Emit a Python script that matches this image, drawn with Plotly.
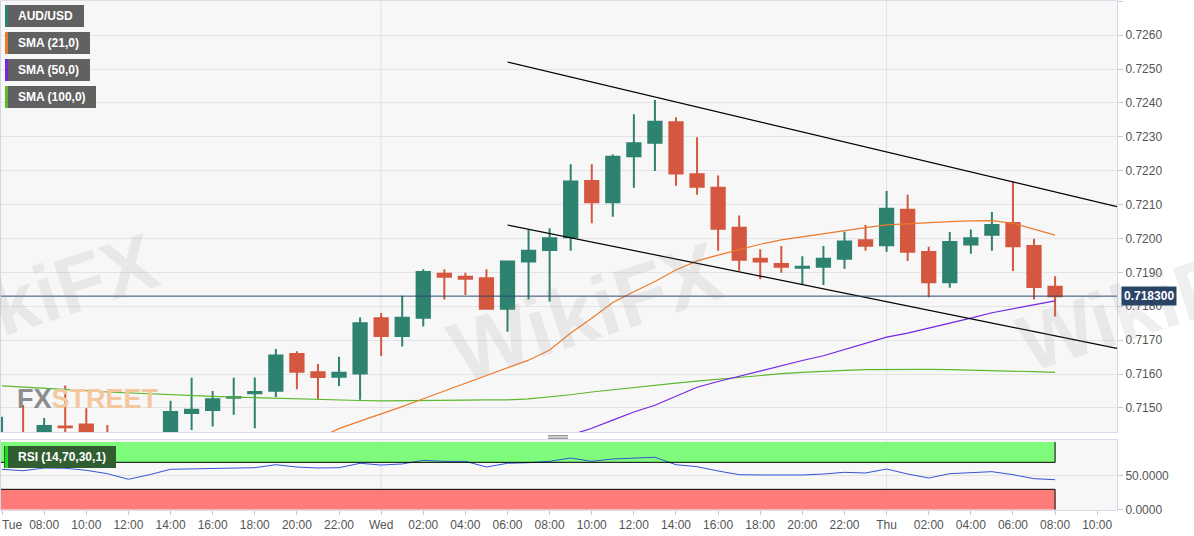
import plotly.graph_objects as go

# hourly candles, hour 0 = Tue 00:00
hours = list(range(6, 57))
opens = [0.7130, 0.7140, 0.7137, 0.71445, 0.71451, 0.7138, 0.7132, 0.7122, 0.7135, 0.71485,
         0.71494, 0.7153, 0.71543, 0.71551, 0.71659, 0.71605, 0.71592, 0.71602, 0.71765, 0.71712,
         0.71766, 0.71896, 0.71887, 0.71883, 0.71793, 0.71932, 0.71966, 0.72004, 0.7217, 0.72107,
         0.72243, 0.72283, 0.72343, 0.7219, 0.7215, 0.72032, 0.7194, 0.71925, 0.71914, 0.71917,
         0.7194, 0.71995, 0.7198, 0.72085, 0.7196, 0.71871, 0.71982, 0.72011, 0.72046, 0.71978,
         0.71858]
highs = [0.71474, 0.71509, 0.7147, 0.71566, 0.71499, 0.7145, 0.7134, 0.7140, 0.71521, 0.71589,
         0.7155, 0.71589, 0.7159, 0.71674, 0.71667, 0.7163, 0.71651, 0.71767, 0.7178, 0.71831,
         0.71909, 0.71909, 0.71899, 0.71909, 0.71932, 0.72027, 0.7203, 0.72219, 0.72219, 0.72248,
         0.72367, 0.72409, 0.72358, 0.72299, 0.72186, 0.72068, 0.71968, 0.71978, 0.71948, 0.71978,
         0.7202, 0.7204, 0.7214, 0.72129, 0.71976, 0.72019, 0.72027, 0.72078, 0.72168, 0.71999,
         0.71889]
lows = [0.7128, 0.7133, 0.7134, 0.7138, 0.7135, 0.7128, 0.7118, 0.7120, 0.7133, 0.71435,
        0.71445, 0.7148, 0.7144, 0.71532, 0.71555, 0.71526, 0.71565, 0.71524, 0.71653, 0.71681,
        0.7174, 0.7182, 0.71833, 0.71793, 0.71725, 0.7182, 0.71814, 0.71964, 0.72045, 0.72064,
        0.7215, 0.72199, 0.72156, 0.72129, 0.71964, 0.71905, 0.7188, 0.71899, 0.71863, 0.71863,
        0.71911, 0.71964, 0.71961, 0.71934, 0.71827, 0.71855, 0.71955, 0.71964, 0.71904, 0.7182,
        0.7177]
closes = [0.7139, 0.7136, 0.71447, 0.71443, 0.7138, 0.7132, 0.7122, 0.7135, 0.71488, 0.71495,
          0.71526, 0.71532, 0.71547, 0.71655, 0.71607, 0.71591, 0.71604, 0.7175, 0.71712, 0.71766,
          0.71901, 0.71887, 0.71881, 0.71793, 0.71932, 0.71964, 0.72001, 0.72168, 0.72107, 0.72241,
          0.72281, 0.72345, 0.72192, 0.72153, 0.72029, 0.71937, 0.71932, 0.71917, 0.71917, 0.7194,
          0.71991, 0.71979, 0.72088, 0.71961, 0.71871, 0.7199, 0.72001, 0.7204, 0.71977, 0.71857,
          0.7183]

sma21_hours = list(range(21, 57))
sma21 = [0.7141, 0.71439, 0.71461, 0.71482, 0.71504, 0.71527, 0.7155, 0.71573, 0.71595, 0.71618,
         0.71641, 0.71671, 0.71721, 0.71765, 0.71811, 0.71843, 0.71873, 0.71907, 0.71934, 0.71951,
         0.71968, 0.71983, 0.71996, 0.72005, 0.72015, 0.72025, 0.72032, 0.7204, 0.72044, 0.72048,
         0.7205, 0.72052, 0.72053, 0.72045, 0.72028, 0.7201]
sma50_hours = list(range(32, 57))
sma50 = [0.7140, 0.7142, 0.7144, 0.71464, 0.71488, 0.71508, 0.71535, 0.71561, 0.71578, 0.71594,
         0.71609, 0.71625, 0.7164, 0.71654, 0.71672, 0.71691, 0.71709, 0.71721, 0.71735, 0.7175,
         0.71765, 0.71781, 0.71793, 0.71805, 0.71816]
sma100 = [0.71565, 0.71562, 0.71558, 0.71555, 0.71551, 0.71547, 0.71544, 0.71541, 0.71538, 0.71536,
          0.71534, 0.71532, 0.7153, 0.71528, 0.71526, 0.71525, 0.71524, 0.71522, 0.71521, 0.71521,
          0.71522, 0.71522, 0.71523, 0.71524, 0.71524, 0.71527, 0.71532, 0.71539, 0.71547, 0.71554,
          0.71561, 0.71567, 0.71573, 0.71579, 0.71585, 0.71591, 0.71596, 0.71601, 0.71605, 0.71609,
          0.71611, 0.71613, 0.71614, 0.71614, 0.71614, 0.71613, 0.71612, 0.71611, 0.71609, 0.71607,
          0.71605]
rsi = [59.7, 57.6, 61.6, 61.2, 58.2, 53.2, 44.9, 51.7, 59.7, 60.1,
       61.2, 61.6, 62.1, 66.5, 63.1, 61.6, 62.1, 68.6, 66.0, 67.6,
       73.0, 71.5, 71.5, 63.1, 68.6, 69.5, 71.5, 76.4, 71.5, 75.0,
       76.0, 77.5, 66.5, 63.6, 57.2, 51.7, 51.3, 50.8, 51.3, 52.7,
       55.2, 54.2, 60.1, 52.7, 46.8, 53.2, 54.2, 56.2, 51.7, 45.8,
       44.3]

# channel lines (start / end)
upper_x = [30, 58.94]
upper_y = [0.72521, 0.72094]
lower_x = [30, 58.94]
lower_y = [0.7204, 0.71676]
last_price = 0.7183
day_starts = [24, 48]

tick_hours = list(range(6, 59, 2))
tick_text = ["\u00a0" * 6 + "Tue", "08:00", "10:00", "12:00", "14:00", "16:00", "18:00", "20:00", "22:00",
             "Wed", "02:00", "04:00", "06:00", "08:00", "10:00", "12:00", "14:00", "16:00",
             "18:00", "20:00", "22:00", "Thu", "02:00", "04:00", "06:00", "08:00", "10:00"]

X_RANGE = [5.95, 58.94]
GREEN, RED = "#2e8270", "#d4573f"

W, H = 1194, 536
ML, MR, MT, MB = 1, 77, 1, 26


def fx(p):
    return (p - ML) / (W - ML - MR)


def fy(p):
    return (H - MB - p) / (H - MT - MB)


fig = go.Figure()

fig.add_trace(go.Scatter(x=hours, y=sma100, mode="lines", line=dict(color="#5cb82e", width=1.2),
                         hoverinfo="skip"))
fig.add_trace(go.Scatter(x=sma50_hours, y=sma50, mode="lines", line=dict(color="#7426e0", width=1.2),
                         hoverinfo="skip"))
fig.add_trace(go.Scatter(x=sma21_hours, y=sma21, mode="lines", line=dict(color="#ec7a2c", width=1.2),
                         hoverinfo="skip"))
fig.add_trace(go.Candlestick(
    x=hours, open=opens, high=highs, low=lows, close=closes,
    increasing=dict(line=dict(color=GREEN, width=2), fillcolor=GREEN),
    decreasing=dict(line=dict(color=RED, width=2), fillcolor=RED),
    whiskerwidth=0,
))
fig.add_trace(go.Scatter(x=upper_x, y=upper_y, mode="lines", line=dict(color="black", width=1.2)))
fig.add_trace(go.Scatter(x=lower_x, y=lower_y, mode="lines", line=dict(color="black", width=1.2)))
fig.add_trace(go.Scatter(x=hours, y=rsi, mode="lines", line=dict(color="#3553d4", width=1),
                         xaxis="x2", yaxis="y2"))

shapes = []
# day separators
for d in day_starts:
    shapes.append(dict(type="line", xref="x", yref="y domain", x0=d, x1=d, y0=0, y1=1,
                       line=dict(color="#e2e2e8", width=1), layer="below"))
    shapes.append(dict(type="line", xref="x2", yref="y2 domain", x0=d, x1=d, y0=0, y1=1,
                       line=dict(color="#e2e2e8", width=1), layer="below"))
# RSI zones
shapes.append(dict(type="rect", xref="x2", yref="y2", x0=X_RANGE[0], x1=hours[-1], y0=70, y1=100,
                   fillcolor="#7ffb7c", line=dict(width=0), layer="below"))
shapes.append(dict(type="rect", xref="x2", yref="y2", x0=X_RANGE[0], x1=hours[-1], y0=0, y1=30,
                   fillcolor="#fd7c7a", line=dict(width=0), layer="below"))
for y0, y1, lvl in [(70, 100, 70), (0, 30, 30)]:
    shapes.append(dict(type="line", xref="x2", yref="y2", x0=X_RANGE[0], x1=hours[-1], y0=lvl, y1=lvl,
                       line=dict(color="black", width=1)))
    shapes.append(dict(type="line", xref="x2", yref="y2", x0=hours[-1], x1=hours[-1], y0=y0, y1=y1,
                       line=dict(color="black", width=1)))
# last price line
shapes.append(dict(type="line", xref="x domain", yref="y", x0=0, x1=1, y0=last_price, y1=last_price,
                   line=dict(color="#2d4a6b", width=1)))
# legend boxes
legend_items = [("AUD/USD", "#2e8270", 5, 84, 5, 27),
                ("SMA (21,0)", "#ec7a2c", 5, 90, 32, 54),
                ("SMA (50,0)", "#7426e0", 5, 90, 59, 81),
                ("SMA (100,0)", "#5cb82e", 5, 96, 86, 108)]
annotations = []
# watermarks (drawn first so they sit under the labels)
for cx, cy, size in [(-115, 300, 80), (585, 312, 84), (1290, 305, 80)]:
    annotations.append(dict(xref="paper", yref="paper", x=fx(cx), y=fy(cy), text="<b>WikiFX</b>",
                            showarrow=False, textangle=-18,
                            font=dict(family="Arial", size=size, color="rgba(150,150,150,0.15)")))
for label, col, x0, x1, y0, y1 in legend_items:
    shapes.append(dict(type="rect", xref="paper", yref="paper", x0=fx(x0), x1=fx(x1), y0=fy(y1), y1=fy(y0),
                       fillcolor="#616161", line=dict(width=0)))
    shapes.append(dict(type="rect", xref="paper", yref="paper", x0=fx(x0), x1=fx(x0 + 3), y0=fy(y1), y1=fy(y0),
                       fillcolor=col, line=dict(width=0)))
    annotations.append(dict(xref="paper", yref="paper", x=fx(x0 + 11), y=fy((y0 + y1) / 2), text="<b>%s</b>" % label,
                            showarrow=False, xanchor="left", yanchor="middle",
                            font=dict(family="Arial, Liberation Sans", size=12, color="white")))
shapes.append(dict(type="rect", xref="paper", yref="paper", x0=fx(4), x1=fx(116), y0=fy(468), y1=fy(446),
                   fillcolor="#315e31", line=dict(width=0)))
shapes.append(dict(type="rect", xref="paper", yref="paper", x0=fx(5), x1=fx(8), y0=fy(468), y1=fy(446),
                   fillcolor="#1fe01f", line=dict(width=0)))
annotations.append(dict(xref="paper", yref="paper", x=fx(16), y=fy(457), text="<b>RSI (14,70,30,1)</b>",
                        showarrow=False, xanchor="left", yanchor="middle",
                        font=dict(family="Arial, Liberation Sans", size=12, color="white")))
# panel handle
for yy in [435.5, 437, 438.5]:
    shapes.append(dict(type="line", xref="paper", yref="paper", x0=fx(548), x1=fx(568), y0=fy(yy), y1=fy(yy),
                       line=dict(color="#999999", width=1)))

# last price tag
annotations.append(dict(xref="paper", yref="y", x=1, y=last_price, text="<b>0.718300</b>", showarrow=False,
                        xanchor="left", yanchor="middle", xshift=4, bgcolor="#2b4466", borderpad=2,
                        font=dict(family="Arial, Liberation Sans", size=12, color="white")))
annotations.append(dict(xref="paper", yref="paper", x=fx(15), y=fy(399),
                        text="<b>FX<span style='color:#f4c89d'>STREET</span></b>", showarrow=False,
                        xanchor="left", yanchor="middle",
                        font=dict(family="Liberation Sans Narrow, Arial", size=27, color="#8d8d8d")))

fig.update_layout(
    width=W, height=H,
    margin=dict(l=ML, r=MR, t=MT, b=MB, autoexpand=False),
    paper_bgcolor="white",
    plot_bgcolor="#f7f7f8",
    showlegend=False,
    hovermode=False,
    boxgap=0.1,
    shapes=shapes,
    annotations=annotations,
    xaxis=dict(domain=[0, 1], anchor="y", range=X_RANGE, showticklabels=False, showgrid=False,
               zeroline=False, showline=True, mirror=True, linecolor="#dcdce8",
               rangeslider=dict(visible=False)),
    xaxis2=dict(domain=[0, 1], anchor="y2", matches="x", range=X_RANGE, tickvals=tick_hours,
                ticktext=tick_text, showgrid=False, zeroline=False, showline=True, mirror=True,
                linecolor="#dcdce8", ticks="outside", ticklen=4, tickcolor="#c8c8d4",
                ticklabeloverflow="allow",
                tickfont=dict(family="Arial, Liberation Sans", size=12, color="#555555")),
    yaxis=dict(domain=[fy(432), 1], anchor="x", side="right", range=[0.71429, 0.72701],
               tick0=0.715, dtick=0.001, tickformat=".4f", gridcolor="#e3e3e8", zeroline=False,
               showline=True, mirror=True, linecolor="#d4d4e4", ticks="outside", ticklen=5,
               tickcolor="#c8c8d4", tickfont=dict(family="Arial, Liberation Sans", size=12, color="#555555")),
    yaxis2=dict(domain=[0, fy(440)], anchor="x2", side="right", range=[-0.6, 103.1],
                tickvals=[0, 50], tickformat=".4f", gridcolor="#e3e3e8", zeroline=False,
                showline=True, mirror=True, linecolor="#d4d4e4", ticks="outside", ticklen=5,
                tickcolor="#c8c8d4", tickfont=dict(family="Arial, Liberation Sans", size=12, color="#555555")),
)

# drop the default page margin so the figure sits at the window's top-left
fig.write_html("out.html", config={"displayModeBar": False},
               post_script="document.body.style.margin='0';")
